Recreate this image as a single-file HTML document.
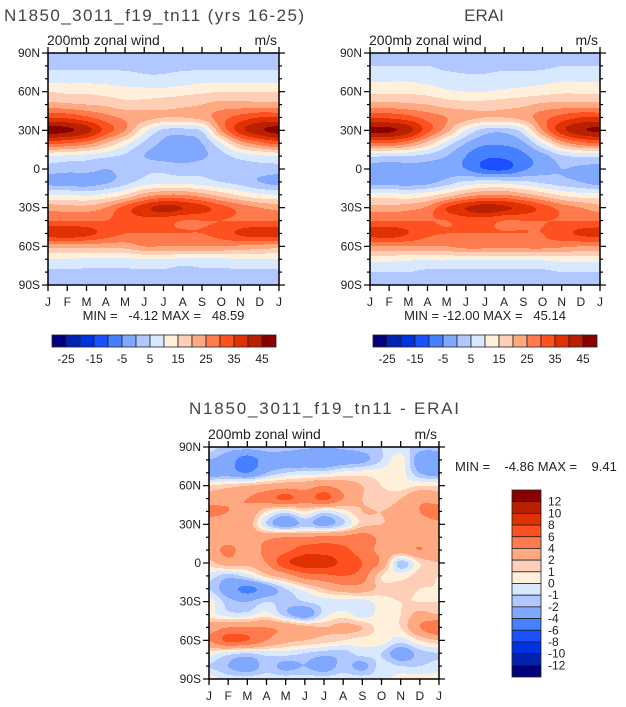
<!DOCTYPE html>
<html><head><meta charset="utf-8"><style>
body{margin:0;background:#fff;width:626px;height:707px;overflow:hidden}
svg{display:block}
text{font-family:"Liberation Sans",sans-serif;fill:#222;white-space:pre}
</style></head><body>
<svg id="fig" width="626" height="707" viewBox="0 0 626 707" xmlns="http://www.w3.org/2000/svg" xml:space="preserve">
<text x="4" y="21" font-size="17" textLength="300" style="fill:#444">N1850_3011_f19_tn11 (yrs 16-25)</text>
<text x="484" y="21" font-size="17" text-anchor="middle" style="fill:#444">ERAI</text>
<text x="189" y="414" font-size="17" textLength="270" style="fill:#444">N1850_3011_f19_tn11 - ERAI</text>
<g id="layer"></g>
</svg>
<script>
const months = ["J","F","M","A","M","J","J","A","S","O","N","D","J"];
const latLabels = ["90N","60N","30N","0","30S","60S","90S"];
const latitudes = [90,80,70,60,50,40,30,20,10,0,-10,-20,-30,-40,-50,-60,-70,-80,-90];
const absLevels = [-25,-20,-15,-10,-5,0,5,10,15,20,25,30,35,40,45];
const absTickLabels = ["-25","-15","-5","5","15","25","35","45"];
const diffLevels = [-12,-10,-8,-6,-4,-2,-1,0,1,2,4,6,8,10,12];
const diffTickLabels = ["12","10","8","6","4","2","1","0","-1","-2","-4","-6","-8","-10","-12"];
const palette = ["#00007f","#0022b0","#0033e0","#1a50ff","#4480ff","#80a8ff","#b0c8ff","#d8e8ff","#fff0dc","#ffceb6","#ffa982","#ff7b4e","#ff5020","#e03200","#b82000","#880000"];
const modelField = [
[3,3,3,2,2,1,1,2,3,3,3,3,3],
[4,4,4,4,4,4,4,4,4,4,4,4,4],
[8,8,8,8,7,6,6,7,8,8,8,8,8],
[15,14,14,13,12,12,12,13,14,15,15,15,15],
[22,21,20,19,17,17,18,19,20,22,22,22,22],
[35,34,31,27,24,22,20,20,22,28,32,35,35],
[47,46,42,33,25,12,4,3,6,25,38,44,47],
[32,30,27,20,12,4,-1,-2,0,10,22,28,32],
[10,9,8,6,4,0,-2,-3,-1,3,7,9,10],
[3,2,2,0,2,4,4,3,4,4,3,3,3],
[-2,-3,-3,-1,3,7,8,8,7,5,3,0,-2],
[10,10,9,11,15,22,25,25,22,18,14,11,10],
[23,22,22,25,32,38,42,40,37,32,28,25,23],
[30,30,30,30,32,33,32,30,30,30,30,30,30],
[38,39,37,33,30,30,30,30,30,32,36,38,38],
[22,22,22,22,22,25,25,25,25,25,24,23,22],
[10,10,9,9,9,10,10,9,9,9,10,10,10],
[4,4,4,4,4,4,4,3,4,4,4,4,4],
[2,2,2,2,2,2,2,2,2,2,2,2,2]];
const eraiField = [
[3,3,3,3,3,3,3,3,3,3,3,3,3],
[5,5,5,5,4,4,4,4,4,4,5,5,5],
[9,9,9,8,7,6,6,7,7,8,9,9,9],
[14,14,14,13,11,10,10,11,12,13,14,14,14],
[22,22,21,20,18,17,17,18,19,21,22,22,22],
[35,34,32,28,25,22,20,20,22,28,32,35,35],
[46,46,42,32,22,10,3,2,8,25,38,44,46],
[30,30,26,18,8,0,-4,-4,-1,10,22,28,30],
[6,5,5,3,0,-5,-9,-9,-6,-2,4,6,6],
[-2,-3,-2,-2,-2,-5,-10,-11,-6,-2,0,-1,-2],
[-3,-3,-3,-2,2,6,7,7,6,4,2,0,-3],
[12,12,11,13,17,22,25,25,22,18,14,12,12],
[22,22,23,26,35,40,43,41,38,33,28,25,22],
[30,30,30,30,30,32,32,30,30,30,30,30,30],
[37,38,35,31,30,30,30,30,30,30,33,36,37],
[25,25,25,25,25,27,27,27,27,27,26,25,25],
[12,12,11,11,11,11,11,11,11,11,12,12,12],
[5,5,5,4,4,4,4,4,4,4,5,5,5],
[3,3,3,3,3,3,3,3,3,3,3,3,3]];
const diffField = [
[-0.5,-1.5,-1.5,-1.5,-1.5,-1.8,-2,-1.8,-1.5,-1,-0.5,-1.5,-1.5],
[-2,-3,-5,-3,-3,-3.5,-3.5,-3,-2.5,-1,0.5,-3,-3.5],
[-3,-3,-4,-2,-1,-0.5,-0.5,0.3,0.5,0.5,0.5,-2,-3],
[1,1.5,2,2.5,3,3,4,3,2,1,0.5,1,1],
[3,3.5,4,5,6.5,5,6.5,4,2,1.5,2,3.5,3],
[4.5,4,3.5,1,-0.5,1,-0.5,0.5,2,2,2.5,4,5],
[3,3,3,-1,-3,-1.5,-2.5,-1,1.5,2,2.5,3,3.5],
[2.5,3,3,3.5,4,4,4.5,4.5,5,3.5,3,3,2.5],
[3,4.5,3,4.5,5.5,7,7,6.5,5,3.5,3,4,3],
[1.5,3,2.5,4,7.5,9,9,7.5,6,3.5,-1.5,1,2],
[-0.5,-1.5,-0.5,1.5,3,5,5.5,6,5,1,0.5,1.5,1],
[-1,-3,-4.5,-3,-1,0.5,2,3,3,1.5,1.5,1,1],
[0.5,-1.5,-2,-1,-1.5,-1,-0.5,-0.5,-0.5,0.5,1,1,1],
[0.5,-0.5,-0.5,0.5,-1.5,-3,-0.5,0.5,-0.5,0.5,1,2.5,2],
[3,4,4,4,3.5,2.5,2,2.5,2,0.5,1,4,6],
[4,6.5,6,4,2.5,2,1.5,1,0.5,0.5,-0.5,1,2],
[0.5,-0.5,-1,-0.5,-0.5,-1,-1.5,-1.5,-0.5,-1,-3,-1.5,-1],
[-1,-2,-3,-1.5,-2.5,-2,-3,-1.5,-2.5,-0.5,-1,-1,-0.5],
[0.5,-0.5,-0.5,-0.5,-0.5,-0.5,-0.5,-0.5,-0.5,-0.5,0.5,0.5,0.5]];

const NS="http://www.w3.org/2000/svg";
const layer=document.getElementById('layer');
function el(tag,attrs,parent){const e=document.createElementNS(NS,tag);for(const k in attrs)e.setAttribute(k,attrs[k]);(parent||layer).appendChild(e);return e;}
function levelIndex(v,levels){let i=0;while(i<levels.length&&v>=levels[i])i++;return i;}
function cr(p0,p1,p2,p3,t){return 0.5*((2*p1)+(-p0+p2)*t+(2*p0-5*p1+4*p2-p3)*t*t+(-p0+3*p1-3*p2+p3)*t*t*t);}
function sample(field,fx,fy){
  const nx=months.length,ny=latitudes.length;
  const x1=Math.min(Math.floor(fx),nx-2),y1=Math.min(Math.floor(fy),ny-2);
  const tx=fx-x1,ty=fy-y1;
  const cx=i=>Math.max(0,Math.min(nx-1,i)),cy=j=>Math.max(0,Math.min(ny-1,j));
  const rows=[];
  for(let j=-1;j<=2;j++){const r=field[cy(y1+j)];rows.push(cr(r[cx(x1-1)],r[x1],r[x1+1],r[cx(x1+2)],tx));}
  return cr(rows[0],rows[1],rows[2],rows[3],ty);
}
function panel(name,field,levels,x0,y0,w,h,sub,minmax){
  const g=el('g',{});
  
  
  const xScale=m=>x0+m*w/(months.length-1);
  const yScale=lat=>y0+(90-lat)*h/180;
  const step=1;
  for(let py=0;py<h;py+=step){
    const fy=(py+step/2)/h*(latitudes.length-1);
    let runStart=0,runIdx=-1;
    for(let px=0;px<=w;px+=1){
      let idx=-2;
      if(px<w){const fx=(px+0.5)/w*(months.length-1);idx=levelIndex(sample(field,fx,fy),levels);}
      if(idx!==runIdx){
        if(runIdx>=0){const r=el('rect',{x:x0+runStart,y:y0+py,width:px-runStart+0.4,height:Math.min(step,h-py)+0.4,fill:palette[runIdx]},g);
          
          }
        runStart=px;runIdx=idx;
      }
    }
  }
  const frame=el('rect',{x:x0,y:y0,width:w,height:h,fill:'none',stroke:'#000','stroke-width':1.5},g);
  
  
  months.forEach((m,i)=>{
    const x=xScale(i);
    el('line',{x1:x,x2:x,y1:y0+h,y2:y0+h+6,stroke:'#000','stroke-width':1.3},g);
    el('line',{x1:x,x2:x,y1:y0-6,y2:y0,stroke:'#000','stroke-width':1.3},g);
    const t=el('text',{x:x,y:y0+h+21,'font-size':12,'text-anchor':'middle'},g);
    t.textContent=m;
    
    
  });
  for(let lat=90;lat>=-90;lat-=10){
    const y=yScale(lat),major=lat%30===0,L=major?6:3;
    el('line',{x1:x0-L,x2:x0,y1:y,y2:y,stroke:'#000','stroke-width':1.2},g);
    el('line',{x1:x0+w,x2:x0+w+L,y1:y,y2:y,stroke:'#000','stroke-width':1.2},g);
  }
  latLabels.forEach((lb,i)=>{
    const t=el('text',{x:x0-8,y:yScale(90-30*i)+4,'font-size':12,'text-anchor':'end'},g);
    t.textContent=lb;
    
    
  });
  const s1=el('text',{x:x0-1,y:y0-8,'font-size':14},g);s1.textContent=sub;
  
  
  const s2=el('text',{x:x0+w-2,y:y0-8,'font-size':14,'text-anchor':'end'},g);s2.textContent='m/s';
  
  
  if(minmax){const t=el('text',{x:x0+w/2,y:y0+h+35,'font-size':13,'text-anchor':'middle'},g);t.textContent=minmax;
    
    }
}
function hbar(name,x0,y0,bw,bh){
  const g=el('g',{});
  
  
  palette.forEach((c,i)=>{const r=el('rect',{x:x0+i*bw,y:y0,width:bw,height:bh,fill:c,stroke:'#222','stroke-width':0.8},g);
    
    });
  absTickLabels.forEach((lb,j)=>{const t=el('text',{x:x0+bw*(1+2*j),y:y0+bh+16,'font-size':12,'text-anchor':'middle'},g);t.textContent=lb;
    
    });
}
panel('panel-model',modelField,absLevels,48,53,231,232,'200mb zonal wind','MIN =   -4.12 MAX =   48.59');
panel('panel-erai',eraiField,absLevels,370,53,230,232,'200mb zonal wind','MIN = -12.00 MAX =   45.14');
panel('panel-diff',diffField,diffLevels,209,447,230,232,'200mb zonal wind',null);
hbar('colorbar-model',52,335,14,12);
hbar('colorbar-erai',373,335,14,12);
const mm=el('text',{x:455,y:471,'font-size':13});mm.textContent='MIN =    -4.86 MAX =    9.41';


const vg=el('g',{});


const bh=187/16;
palette.slice().reverse().forEach((c,i)=>{const r=el('rect',{x:512,y:490+i*bh,width:29,height:bh,fill:c,stroke:'#222','stroke-width':0.8},vg);
  
  });
diffTickLabels.forEach((lb,j)=>{const t=el('text',{x:548,y:490+(j+1)*bh+4,'font-size':12},vg);t.textContent=lb;
  
  });
</script>
</body></html>
